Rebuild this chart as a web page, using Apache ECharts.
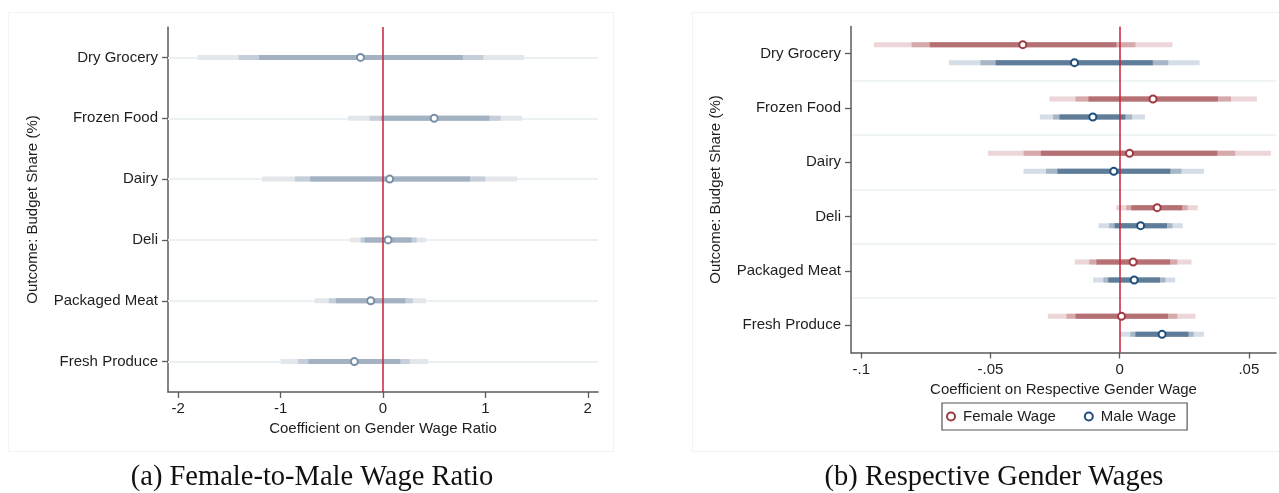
<!DOCTYPE html>
<html>
<head>
<meta charset="utf-8">
<script src="https://cdn.jsdelivr.net/npm/echarts@6/dist/echarts.min.js"></script>
<style>
  html, body { margin: 0; padding: 0; background: #ffffff; }
  #chart { width: 1279px; height: 493px; }
</style>
</head>
<body>
<div id="chart"></div>
<script>
// ---------- DATA ----------
const categories = ['Dry Grocery', 'Frozen Food', 'Dairy', 'Deli', 'Packaged Meat', 'Fresh Produce'];

// Panel (a): coefficient on gender wage ratio
const ratioCoef    = [-0.22, 0.50, 0.065, 0.05, -0.12, -0.28];
const ratioDarkLo  = [-1.21, -0.02, -0.71, -0.18, -0.46, -0.73];
const ratioDarkHi  = [0.78, 1.04, 0.85, 0.28, 0.22, 0.17];
const ratioMidLo   = [-1.41, -0.13, -0.86, -0.22, -0.53, -0.83];
const ratioMidHi   = [0.98, 1.15, 1.00, 0.33, 0.29, 0.26];
const ratioLightLo = [-1.81, -0.34, -1.18, -0.32, -0.67, -1.00];
const ratioLightHi = [1.38, 1.36, 1.31, 0.42, 0.42, 0.44];

// Panel (b): female wage
const femCoef    = [-0.0375, 0.0129, 0.0038, 0.0145, 0.0052, 0.0007];
const femDarkLo  = [-0.0735, -0.0121, -0.0305, 0.0045, -0.0090, -0.0171];
const femDarkHi  = [-0.0013, 0.0380, 0.0378, 0.0242, 0.0195, 0.0187];
const femMidLo   = [-0.0805, -0.0171, -0.0372, 0.0025, -0.0118, -0.0206];
const femMidHi   = [0.0061, 0.0431, 0.0447, 0.0263, 0.0223, 0.0223];
const femLightLo = [-0.0951, -0.0272, -0.0510, -0.0014, -0.0174, -0.0278];
const femLightHi = [0.0204, 0.0531, 0.0585, 0.0302, 0.0278, 0.0293];

// Panel (b): male wage
const maleCoef    = [-0.0175, -0.0104, -0.0023, 0.0081, 0.0056, 0.0164];
const maleDarkLo  = [-0.0480, -0.0233, -0.0241, -0.0020, -0.0044, 0.0061];
const maleDarkHi  = [0.0128, 0.0022, 0.0196, 0.0183, 0.0156, 0.0266];
const maleMidLo   = [-0.0539, -0.0258, -0.0285, -0.0041, -0.0063, 0.0041];
const maleMidHi   = [0.0188, 0.0048, 0.0239, 0.0204, 0.0177, 0.0286];
const maleLightLo = [-0.0661, -0.0309, -0.0372, -0.0082, -0.0103, 0.0003];
const maleLightHi = [0.0309, 0.0098, 0.0326, 0.0244, 0.0215, 0.0326];

const ratioTicks = [-2, -1, 0, 1, 2];
const wageTicks = [-0.1, -0.05, 0, 0.05];

// ---------- HELPERS ----------
const SANS = 'Liberation Sans, Arial, Helvetica, sans-serif';
const AXIS_COLOR = '#5a5a5a';
const TEXT_COLOR = '#1e1e1e';

function ciData(lightLo, lightHi, midLo, midHi, darkLo, darkHi) {
  return categories.map((c, i) => [i, lightLo[i], lightHi[i], midLo[i], midHi[i], darkLo[i], darkHi[i]]);
}
function pointData(coef) {
  return categories.map((c, i) => [coef[i], i]);
}
function ciRender(dy, colors, h) {
  return function (params, api) {
    const cat = api.value(0);
    const children = [];
    const pairs = [[1, 2, colors[0]], [3, 4, colors[1]], [5, 6, colors[2]]];
    for (const [a, b, col] of pairs) {
      const p1 = api.coord([api.value(a), cat]);
      const p2 = api.coord([api.value(b), cat]);
      children.push({
        type: 'rect',
        shape: { x: p1[0], y: p1[1] + dy - h / 2, width: p2[0] - p1[0], height: h },
        style: { fill: col }
      });
    }
    return { type: 'group', children };
  };
}
function wageFmt(v) {
  if (Math.abs(v) < 1e-12) return '0';
  return String(+v.toFixed(4)).replace('0.', '.');
}

const chart = echarts.init(document.getElementById('chart'));

function catAxis(gridIndex, split) {
  return {
    gridIndex: gridIndex, type: 'category', data: categories, inverse: true, boundaryGap: true,
    name: 'Outcome: Budget Share (%)', nameLocation: 'middle', nameGap: 128, nameRotate: 90,
    nameTextStyle: { fontSize: 15, color: TEXT_COLOR, fontFamily: SANS },
    axisLine: { show: true, onZero: false, lineStyle: { color: AXIS_COLOR, width: 1.5 } },
    axisTick: { show: true, alignWithLabel: true, length: 6, lineStyle: { color: AXIS_COLOR, width: 1.3 } },
    axisLabel: { fontSize: 15, color: TEXT_COLOR, margin: 10, fontFamily: SANS },
    splitLine: split
      ? { show: true, showMinLine: false, showMaxLine: false, lineStyle: { color: '#e9f0f2', width: 1.6 } }
      : { show: false }
  };
}

const option = {
  animation: false,
  backgroundColor: '#ffffff',
  textStyle: { fontFamily: SANS },
  grid: [
    { left: 168, top: 27, width: 430, height: 365, containLabel: false },
    { left: 851, top: 26.5, width: 425, height: 326, containLabel: false }
  ],
  xAxis: [
    {
      gridIndex: 0, type: 'value', min: -2.1, max: 2.1,
      name: 'Coefficient on Gender Wage Ratio', nameLocation: 'middle', nameGap: 25,
      nameTextStyle: { fontSize: 15, color: TEXT_COLOR, fontFamily: SANS },
      axisLine: { show: true, onZero: false, lineStyle: { color: AXIS_COLOR, width: 1.5 } },
      axisTick: { show: true, length: 6, customValues: ratioTicks, lineStyle: { color: AXIS_COLOR, width: 1.3 } },
      axisLabel: { customValues: ratioTicks, fontSize: 15, color: TEXT_COLOR, margin: 9, fontFamily: SANS },
      splitLine: { show: false }
    },
    {
      gridIndex: 1, type: 'value', min: -0.104, max: 0.0605,
      name: 'Coefficient on Respective Gender Wage', nameLocation: 'middle', nameGap: 25,
      nameTextStyle: { fontSize: 15, color: TEXT_COLOR, fontFamily: SANS },
      axisLine: { show: true, onZero: false, lineStyle: { color: AXIS_COLOR, width: 1.5 } },
      axisTick: { show: true, length: 6, customValues: wageTicks, lineStyle: { color: AXIS_COLOR, width: 1.3 } },
      axisLabel: { customValues: wageTicks, formatter: wageFmt, fontSize: 15, color: TEXT_COLOR, margin: 10, fontFamily: SANS },
      splitLine: { show: false }
    }
  ],
  yAxis: [catAxis(0, false), catAxis(1, true)],
  legend: {
    data: ['Female Wage', 'Male Wage'],
    left: 942, top: 403,
    orient: 'horizontal',
    icon: 'circle',
    itemWidth: 14, itemHeight: 8, itemGap: 28,
    padding: [5, 11, 5, 4],
    borderColor: '#555555', borderWidth: 1.2, borderRadius: 0,
    backgroundColor: '#ffffff',
    textStyle: { fontSize: 15, color: TEXT_COLOR, fontFamily: SANS, lineHeight: 17 }
  },
  graphic: [
    { type: 'rect', z: -10, shape: { x: 8.5, y: 12.5, width: 605, height: 439 }, style: { fill: 'none', stroke: '#f3f3f3', lineWidth: 1 } },
    { type: 'rect', z: -10, shape: { x: 692.5, y: 12.5, width: 600, height: 439 }, style: { fill: 'none', stroke: '#f3f3f3', lineWidth: 1 } },
    { type: 'text', x: 312, y: 478, style: { text: '(a) Female-to-Male Wage Ratio', fill: '#111', font: '28.5px "Liberation Serif", "Times New Roman", serif', textAlign: 'center', textVerticalAlign: 'middle' } },
    { type: 'text', x: 994, y: 478, style: { text: '(b) Respective Gender Wages', fill: '#111', font: '28.5px "Liberation Serif", "Times New Roman", serif', textAlign: 'center', textVerticalAlign: 'middle' } }
  ],
  series: [
    // ----- Panel (a) -----
    {
      type: 'custom', name: 'Ratio CI', xAxisIndex: 0, yAxisIndex: 0, z: 2,
      renderItem: ciRender(0, ['#e3e7ec', '#c6cfd9', '#a2b2c3'], 5),
      encode: { x: [1, 2, 3, 4, 5, 6], y: 0 },
      data: ciData(ratioLightLo, ratioLightHi, ratioMidLo, ratioMidHi, ratioDarkLo, ratioDarkHi),
      markLine: {
        silent: true, symbol: ['none', 'none'], z: 1, animation: false,
        label: { show: false },
        lineStyle: { color: '#ebf0f3', width: 1.8, type: 'solid' },
        data: categories.map(c => ({ yAxis: c }))
      }
    },
    {
      type: 'scatter', name: 'Ratio', xAxisIndex: 0, yAxisIndex: 0, z: 5,
      symbol: 'circle', symbolSize: 7,
      itemStyle: { color: '#ffffff', borderColor: '#7a8fa7', borderWidth: 2, opacity: 1 },
      data: pointData(ratioCoef),
      markLine: {
        silent: true, symbol: ['none', 'none'], z: 3, animation: false,
        label: { show: false },
        lineStyle: { color: '#c8203a', width: 1.5, type: 'solid' },
        data: [{ xAxis: 0 }]
      }
    },
    // ----- Panel (b) -----
    {
      type: 'custom', name: 'Female CI', xAxisIndex: 1, yAxisIndex: 1, z: 2,
      renderItem: ciRender(-9, ['#ecd6d7', '#d6a9ab', '#b57074'], 5),
      encode: { x: [1, 2, 3, 4, 5, 6], y: 0 },
      data: ciData(femLightLo, femLightHi, femMidLo, femMidHi, femDarkLo, femDarkHi)
    },
    {
      type: 'custom', name: 'Male CI', xAxisIndex: 1, yAxisIndex: 1, z: 2,
      renderItem: ciRender(9, ['#d5dde6', '#a7b7c7', '#5f7c99'], 5),
      encode: { x: [1, 2, 3, 4, 5, 6], y: 0 },
      data: ciData(maleLightLo, maleLightHi, maleMidLo, maleMidHi, maleDarkLo, maleDarkHi),
      markLine: {
        silent: true, symbol: ['none', 'none'], z: 3, animation: false,
        label: { show: false },
        lineStyle: { color: '#c8203a', width: 1.5, type: 'solid' },
        data: [{ xAxis: 0 }]
      }
    },
    {
      type: 'scatter', name: 'Female Wage', xAxisIndex: 1, yAxisIndex: 1, z: 5,
      symbol: 'circle', symbolSize: 7, symbolOffset: [0, -9],
      itemStyle: { color: '#ffffff', borderColor: '#a03a42', borderWidth: 2, opacity: 1 },
      data: pointData(femCoef)
    },
    {
      type: 'scatter', name: 'Male Wage', xAxisIndex: 1, yAxisIndex: 1, z: 5,
      symbol: 'circle', symbolSize: 7, symbolOffset: [0, 9],
      itemStyle: { color: '#ffffff', borderColor: '#1f4f7e', borderWidth: 2, opacity: 1 },
      data: pointData(maleCoef)
    }
  ]
};

chart.setOption(option);
</script>
</body>
</html>
